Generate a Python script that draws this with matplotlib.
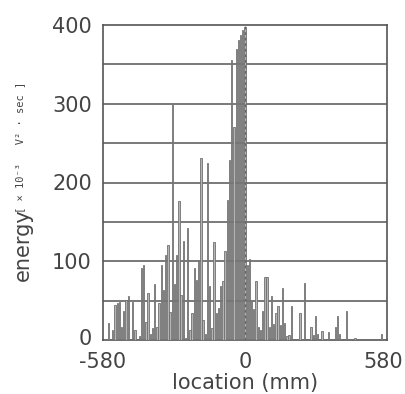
import numpy as np
import matplotlib
matplotlib.use("Agg")
import matplotlib.pyplot as plt
import matplotlib.transforms as mtransforms

# bar locations (mm), one every 9 mm from -558 to 558
location = np.arange(-558, 559, 9)

# energy [x 1e-3 V^2 sec], left to right
energy = [
    22, 0, 13, 44, 47, 48, 16, 37, 51, 56,
    0, 48, 13, 0, 5, 92, 95, 23, 60, 8,
    15, 71, 16, 47, 95, 64, 108, 121, 35, 300,
    71, 108, 176, 57, 126, 3, 142, 13, 34, 92,
    76, 100, 231, 25, 8, 225, 69, 15, 125, 34,
    41, 69, 75, 113, 178, 229, 355, 271, 370, 381,
    387, 394, 398, 95, 103, 51, 40, 75, 16, 13,
    37, 80, 80, 17, 56, 20, 34, 43, 19, 66,
    22, 5, 6, 43, 0, 0, 0, 34, 0, 72,
    0, 0, 17, 6, 30, 7, 0, 11, 0, 0,
    10, 0, 0, 17, 30, 8, 0, 0, 37, 0,
    0, 0, 3, 0, 0, 0, 0, 0, 0, 0,
    0, 0, 0, 0, 7,
]

x_ticks = [-580, 0, 580]
x_labels = ["-580", "0", "580"]
y_ticks = [0, 100, 200, 300, 400]

line_col = "#555555"
text_col = "#444444"

fig = plt.figure(figsize=(4.05, 3.94), dpi=100)
ax = fig.add_axes([103 / 405, 54 / 394, 284 / 405, 315 / 394])

ax.bar(location, energy, width=5.5, color="#b4b4b4", edgecolor="#707070",
       linewidth=0.6, zorder=3)

# horizontal rules every 50
for yv in range(50, 400, 50):
    ax.axhline(yv, color=line_col, lw=1.1, zorder=2)

# dashed marker at the origin
ax.vlines(0, 0, 400, colors="#666666", linestyles=(0, (2, 2)), lw=1.0, zorder=4)

ax.set_xlim(-580, 580)
ax.set_ylim(0, 400)
ax.set_xticks(x_ticks)
ax.set_xticklabels(x_labels)
ax.set_yticks(y_ticks)
ax.tick_params(axis="y", length=0, labelsize=15, labelcolor=text_col, pad=8)
ax.tick_params(axis="x", length=0, labelsize=15, labelcolor=text_col, pad=9)
for s in ax.spines.values():
    s.set_color(line_col)
    s.set_linewidth(1.2)

# nudge a couple of labels the way the scan has them
last = ax.get_xticklabels()[-1]
last.set_transform(last.get_transform() +
                   mtransforms.ScaledTranslation(-4 / 100, 0, fig.dpi_scale_trans))
zero = ax.get_yticklabels()[0]
zero.set_transform(zero.get_transform() +
                   mtransforms.ScaledTranslation(0, 3 / 100, fig.dpi_scale_trans))

ax.set_xlabel("location (mm)", fontsize=15, color=text_col, labelpad=0.5)

fig.text(0.056, 0.378, "energy", rotation=90, fontsize=15, color=text_col,
         ha="center", va="center")
fig.text(0.050, 0.626, "[ \u00d7 10\u207b\u00b3   V\u00b2 \u00b7 sec ]", rotation=90,
         fontsize=7.5, color=text_col, ha="center", va="center",
         family="DejaVu Sans Mono")

fig.savefig("out.png", dpi=100)
